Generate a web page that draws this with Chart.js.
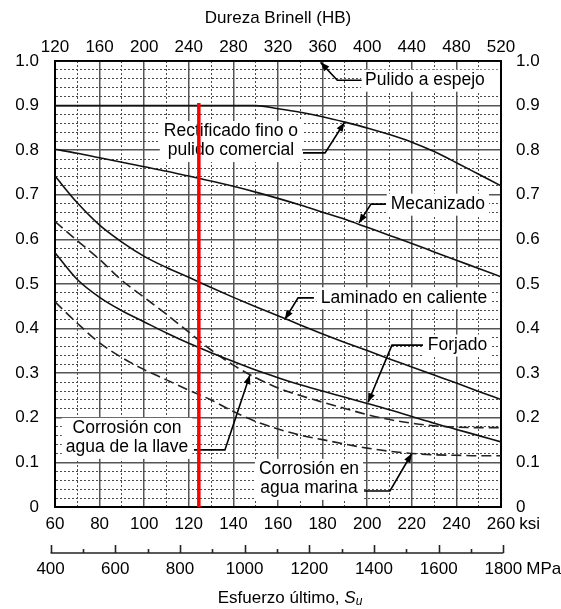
<!DOCTYPE html>
<html>
<head>
<meta charset="utf-8">
<title>Factor de superficie</title>
<script src="https://cdn.jsdelivr.net/npm/chart.js@4.4.1/dist/chart.umd.min.js"></script>
<style>
  html, body { margin: 0; padding: 0; background: #fff; }
  #wrap { width: 561px; height: 609px; }
</style>
</head>
<body>
<div id="wrap"><canvas id="chart"></canvas></div>
<script>
// ultimate strength, ksi (shared x values of every curve)
const ksi = [60, 70, 80, 90, 100, 110, 120, 130, 140, 150, 160,
             170, 180, 190, 200, 210, 220, 230, 240, 250, 260];

// surface factor for each finish
const rectificado = [0.900, 0.900, 0.900, 0.900, 0.900, 0.900, 0.900, 0.900, 0.900, 0.900, 0.893,
                     0.885, 0.875, 0.863, 0.850, 0.835, 0.818, 0.797, 0.772, 0.746, 0.720];
const mecanizado  = [0.802, 0.793, 0.783, 0.773, 0.763, 0.753, 0.742, 0.731, 0.719, 0.706, 0.692,
                     0.677, 0.661, 0.645, 0.627, 0.609, 0.591, 0.572, 0.553, 0.535, 0.516];
const laminado    = [0.742, 0.682, 0.632, 0.594, 0.562, 0.537, 0.515, 0.492, 0.470, 0.449, 0.429,
                     0.408, 0.388, 0.369, 0.351, 0.332, 0.314, 0.296, 0.278, 0.259, 0.241];
const forjado     = [0.570, 0.510, 0.470, 0.440, 0.415, 0.390, 0.367, 0.346, 0.326, 0.307, 0.290,
                     0.274, 0.260, 0.246, 0.232, 0.218, 0.203, 0.188, 0.174, 0.160, 0.146];
const aguaLlave   = [0.640, 0.597, 0.555, 0.508, 0.470, 0.432, 0.392, 0.352, 0.318, 0.290, 0.267,
                     0.250, 0.235, 0.221, 0.207, 0.196, 0.188, 0.182, 0.179, 0.178, 0.178];
const aguaMarina  = [0.460, 0.412, 0.368, 0.335, 0.308, 0.285, 0.262, 0.240, 0.214, 0.192, 0.175,
                     0.161, 0.151, 0.141, 0.132, 0.125, 0.120, 0.117, 0.116, 0.115, 0.115];

// mirror polish sits on the 1.0 line
const pulidoKsi = [60, 260];
const pulido = [1.0, 1.0];

// marker at the working strength
const markKsi = [124.5, 124.5];
const markVal = [0, 0.906];

// secondary strength scale in MPa
const KSI_TO_MPA = 6.895;
const mpaTicks = [400, 500, 600, 700, 800, 900, 1000, 1100, 1200, 1300, 1400, 1500, 1600, 1700, 1800];

// callouts: text block centre and leader path, in (ksi, factor)
const notes = [
  { lines: ['Pulido a espejo'], at: [225.9, 0.957], padRight: 10,
    leader: [[197.5, 0.957], [186.6, 0.957], [179.1, 0.997]] },
  { lines: ['Rectificado fino o', 'pulido comercial'], at: [138.9, 0.8205],
    leader: [[171.2, 0.794], [181.1, 0.794], [189.8, 0.862]] },
  { lines: ['Mecanizado'], at: [231.7, 0.679],
    leader: [[208.4, 0.679], [201.7, 0.679], [196.3, 0.637]] },
  { lines: ['Laminado en caliente'], at: [216.5, 0.469],
    leader: [[176.1, 0.469], [169.0, 0.469], [163.1, 0.421]] },
  { lines: ['Forjado'], at: [240.5, 0.363],
    leader: [[225.0, 0.363], [211.1, 0.363], [200.4, 0.235]] },
  { lines: ['Corrosión con', 'agua de la llave'], at: [92.3, 0.155],
    leader: [[122.3, 0.128], [136.2, 0.128], [147.4, 0.296]] },
  { lines: ['Corrosión en', 'agua marina'], at: [173.9, 0.063],
    leader: [[198.6, 0.036], [210.2, 0.036], [220.0, 0.120]] }
];

const FONT = '"Liberation Sans", Arial, Helvetica, sans-serif';
Chart.defaults.font.family = FONT;
Chart.defaults.color = '#000';

const pts = (xs, ys) => xs.map((v, i) => ({ x: v, y: ys[i] }));

const solid = (label, xs, ys) => ({
  label, data: pts(xs, ys), borderColor: '#111', borderWidth: 1.6,
  pointRadius: 0, cubicInterpolationMode: 'monotone', fill: false
});
const dashed = (label, xs, ys) => ({
  ...solid(label, xs, ys), borderColor: '#222', borderWidth: 1.6, borderDash: [10, 5]
});

// grid helpers: heavy lines every 20 ksi / 0.1, dotted in between
const xMajor = v => v % 20 === 0;
const yMajor = v => Math.round(v * 100) % 10 === 0;
const gridOpts = (isMajor, lo, hi) => ({
  drawTicks: false,
  color: c => {
    if (!c.tick) return '#555';
    const v = c.tick.value;
    if (Math.abs(v - lo) < 1e-6 || Math.abs(v - hi) < 1e-6) return 'rgba(0,0,0,0)';
    return isMajor(v) ? '#555' : '#4a4a4a';
  },
  lineWidth: c => (c.tick && isMajor(c.tick.value)) ? 1.5 : 1
});
const borderOpts = isMajor => ({
  color: '#000', width: 2,
  dash: c => (c.tick && !isMajor(c.tick.value)) ? [2, 2] : []
});

const yLabel = v => {
  const r = Math.round(v * 100);
  if (r % 10 !== 0) return '';
  return r === 0 ? '0' : (r / 100).toFixed(1);
};

function arrowHead(ctx, from, to, len, half) {
  const a = Math.atan2(to.y - from.y, to.x - from.x);
  const bx = to.x - len * Math.cos(a), by = to.y - len * Math.sin(a);
  ctx.beginPath();
  ctx.moveTo(to.x, to.y);
  ctx.lineTo(bx + half * Math.sin(a), by - half * Math.cos(a));
  ctx.lineTo(bx - half * Math.sin(a), by + half * Math.cos(a));
  ctx.closePath();
  ctx.fill();
}

// white-backed callouts with arrows, drawn under the curves
const callouts = {
  id: 'callouts',
  beforeDatasetsDraw(chart) {
    const { ctx, scales: { x, y } } = chart;
    const lineH = 19;
    ctx.save();
    ctx.font = '17.5px ' + FONT;
    notes.forEach(n => {
      const cx = x.getPixelForValue(n.at[0]);
      const cy = y.getPixelForValue(n.at[1]);
      const w = Math.max(...n.lines.map(t => ctx.measureText(t).width));
      const h = n.lines.length * lineH;
      ctx.fillStyle = '#fff';
      ctx.fillRect(cx - w / 2 - 4, cy - h / 2 - 1, w + 8 + (n.padRight || 0), h + 3);
    });
    notes.forEach(n => {
      const cx = x.getPixelForValue(n.at[0]);
      const cy = y.getPixelForValue(n.at[1]);
      ctx.fillStyle = '#000';
      ctx.textAlign = 'center';
      ctx.textBaseline = 'middle';
      n.lines.forEach((t, i) => {
        ctx.fillText(t, cx, cy + (i - (n.lines.length - 1) / 2) * lineH);
      });
      const p = n.leader.map(([kx, fy]) => ({ x: x.getPixelForValue(kx), y: y.getPixelForValue(fy) }));
      ctx.strokeStyle = '#000';
      ctx.lineWidth = 1.6;
      ctx.beginPath();
      ctx.moveTo(p[0].x, p[0].y);
      p.slice(1).forEach(q => ctx.lineTo(q.x, q.y));
      ctx.stroke();
      arrowHead(ctx, p[p.length - 2], p[p.length - 1], 9, 3.5);
    });
    ctx.restore();
  }
};

// MPa scale under the ksi axis, units and the axis caption
const lowerAxis = {
  id: 'lowerAxis',
  afterDraw(chart) {
    const { ctx, chartArea, scales: { x } } = chart;
    const px = m => x.getPixelForValue(m / KSI_TO_MPA);
    const base = chartArea.bottom;
    const lineY = base + 46;
    ctx.save();
    ctx.strokeStyle = '#222';
    ctx.lineWidth = 1.6;
    ctx.beginPath();
    ctx.moveTo(px(mpaTicks[0]), lineY);
    ctx.lineTo(px(mpaTicks[mpaTicks.length - 1]), lineY);
    ctx.stroke();
    ctx.font = '17px ' + FONT;
    ctx.fillStyle = '#000';
    ctx.textAlign = 'center';
    ctx.textBaseline = 'middle';
    mpaTicks.forEach(m => {
      const major = m % 200 === 0;
      const tx = Math.round(px(m)) + 0.5;
      ctx.beginPath();
      ctx.moveTo(tx, lineY);
      ctx.lineTo(tx, lineY - (major ? 8 : 4));
      ctx.stroke();
      if (major) ctx.fillText(String(m), px(m), lineY + 16);
    });
    // unit names after the last labels
    ctx.textAlign = 'left';
    const w260 = ctx.measureText('260').width;
    ctx.fillText('ksi', x.getPixelForValue(260) + w260 / 2 + 4, base + 17);
    const w1800 = ctx.measureText('1800').width;
    ctx.fillText('MPa', px(1800) + w1800 / 2 + 4, lineY + 16);

    // caption: Esfuerzo último, S_u
    const parts = [
      { t: 'Esfuerzo último, ', f: '17px ' + FONT, dy: 0 },
      { t: 'S', f: 'italic 17px ' + FONT, dy: 0 },
      { t: 'u', f: 'italic 12px ' + FONT, dy: 4 }
    ];
    let total = 0;
    parts.forEach(p => { ctx.font = p.f; p.w = ctx.measureText(p.t).width; total += p.w; });
    let cx = 290 - total / 2;
    const capY = base + 91;
    parts.forEach(p => {
      ctx.font = p.f;
      ctx.fillText(p.t, cx, capY + p.dy);
      cx += p.w;
    });
    ctx.restore();
  }
};

new Chart(document.getElementById('chart'), {
  type: 'line',
  data: {
    datasets: [
      { label: 'Su', data: pts(markKsi, markVal), borderColor: '#ff0000', borderWidth: 3.5,
        pointRadius: 0, borderCapStyle: 'butt', fill: false },
      solid('Pulido a espejo', pulidoKsi, pulido),
      solid('Rectificado fino o pulido comercial', ksi, rectificado),
      solid('Mecanizado', ksi, mecanizado),
      solid('Laminado en caliente', ksi, laminado),
      solid('Forjado', ksi, forjado),
      dashed('Corrosión con agua de la llave', ksi, aguaLlave),
      dashed('Corrosión en agua marina', ksi, aguaMarina)
    ]
  },
  options: {
    responsive: true,
    maintainAspectRatio: false,
    animation: false,
    layout: { padding: 0 },
    plugins: { legend: { display: false }, tooltip: { enabled: false } },
    scales: {
      x: {
        type: 'linear', position: 'bottom', min: 60, max: 260,
        afterFit: s => { s.height = 102; },
        ticks: { stepSize: 10, autoSkip: false, maxRotation: 0, padding: 7, maxTicksLimit: 100,
                 font: { size: 17 }, callback: v => xMajor(v) ? String(v) : '' },
        grid: gridOpts(xMajor, 60, 260),
        border: borderOpts(xMajor)
      },
      xTop: {
        type: 'linear', position: 'top', min: 120, max: 520,
        afterFit: s => { s.height = 61; },
        ticks: { stepSize: 40, autoSkip: false, maxRotation: 0, padding: 3, font: { size: 17 } },
        grid: { drawOnChartArea: false, drawTicks: false },
        border: { color: '#000', width: 2 },
        title: { display: true, text: 'Dureza Brinell (HB)', font: { size: 17 }, padding: { top: 8, bottom: 0 } }
      },
      y: {
        type: 'linear', position: 'left', min: 0, max: 1,
        afterFit: s => { s.width = 55; },
        ticks: { stepSize: 0.02, autoSkip: false, padding: 16, maxTicksLimit: 100,
                 font: { size: 17 }, callback: yLabel },
        grid: gridOpts(yMajor, 0, 1),
        border: borderOpts(yMajor)
      },
      yRight: {
        type: 'linear', position: 'right', min: 0, max: 1,
        afterFit: s => { s.width = 60; },
        ticks: { stepSize: 0.1, autoSkip: false, padding: 15, font: { size: 17 }, callback: yLabel },
        grid: { drawOnChartArea: false, drawTicks: false },
        border: { color: '#000', width: 2 }
      }
    }
  },
  plugins: [callouts, lowerAxis]
});
</script>
</body>
</html>
